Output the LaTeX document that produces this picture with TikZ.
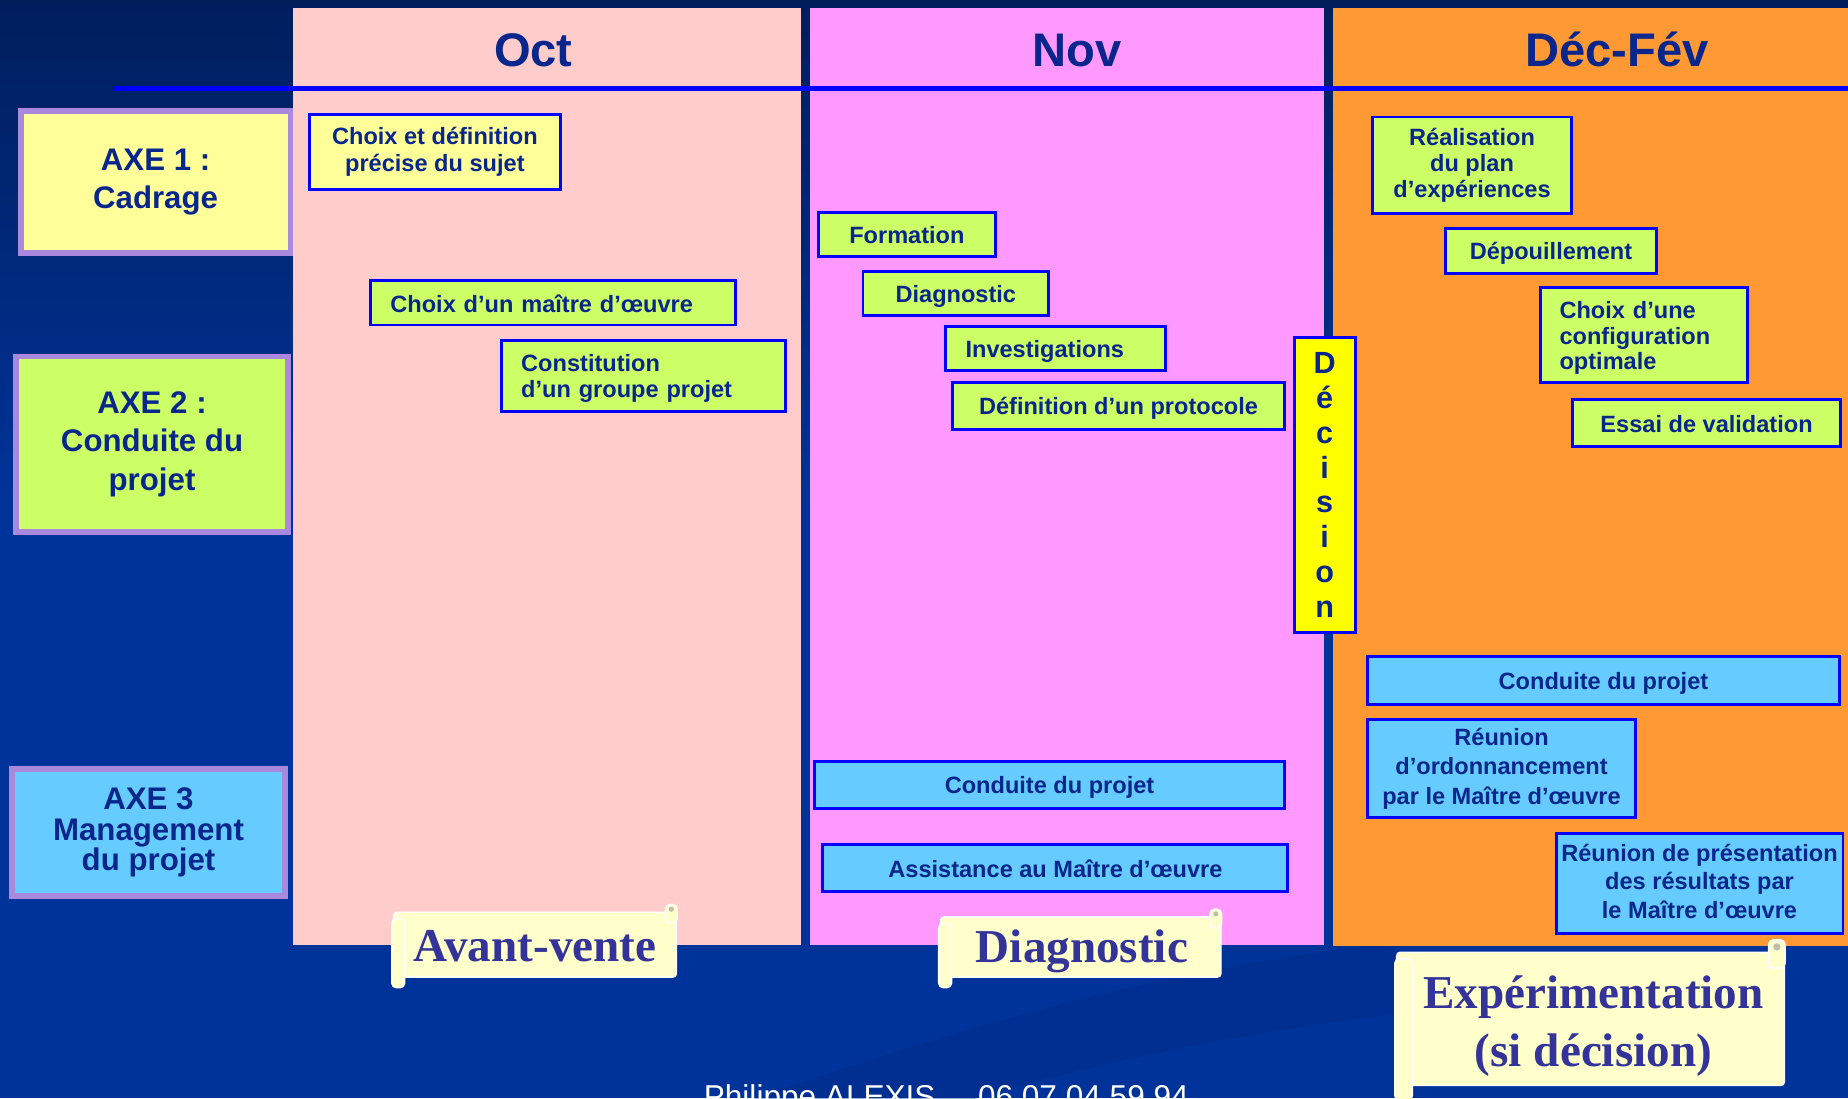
\documentclass[tikz,border=0pt]{standalone}
\usepackage{fontspec}
\setmainfont{Liberation Sans}
\newfontfamily\scrollfont{Liberation Serif}
\usetikzlibrary{calc}

\definecolor{bgtop}{RGB}{0,30,92}
\definecolor{bgbottom}{RGB}{0,51,153}
\definecolor{bandblue}{RGB}{0,47,145}
\definecolor{octfill}{RGB}{255,204,204}
\definecolor{novfill}{RGB}{255,153,255}
\definecolor{decfill}{RGB}{255,153,51}
\definecolor{lineblue}{RGB}{0,0,255}
\definecolor{axeborder}{RGB}{170,136,221}
\definecolor{yellowfill}{RGB}{255,255,153}
\definecolor{greenfill}{RGB}{204,255,102}
\definecolor{bluefill}{RGB}{102,204,255}
\definecolor{decisionfill}{RGB}{255,255,0}
\definecolor{txtblue}{RGB}{8,38,140}
\definecolor{scrollfill}{RGB}{255,255,204}
\definecolor{scrolltxt}{RGB}{51,51,153}
\definecolor{curlgray}{RGB}{190,190,170}

\tikzset{
	boxtext/.style={execute at begin node={\rule{0pt}{19pt}}, execute at end node={\rule[-3.5pt]{0pt}{3.5pt}}},
	axe/.style={draw=axeborder, line width=5pt, text=txtblue, align=center, inner sep=0pt, font=\bfseries\fontsize{26.5}{33}\selectfont, execute at begin node={\rule{0pt}{27pt}}, execute at end node={\rule[-3pt]{0pt}{3pt}}},
	task/.style={draw=lineblue, line width=2.5pt, text=txtblue, align=center, inner sep=0pt, font=\bfseries\fontsize{20}{22.5}\selectfont},
	greentask/.style={task, boxtext, fill=greenfill},
	yellowtask/.style={task, boxtext, fill=yellowfill},
	bluetask/.style={task, boxtext, fill=bluefill, font=\bfseries\fontsize{20}{24.5}\selectfont},
	month/.style={text=txtblue, font=\bfseries\fontsize{40}{40}\selectfont, inner sep=0pt, anchor=base},
	scrollbody/.style={fill=scrollfill, draw=white, line width=1.2pt, rounded corners=3pt, inner sep=0pt},
	scrolledge/.style={fill=scrollfill, draw=white, line width=1.2pt, rounded corners=4pt},
	scrolllabel/.style={text=scrolltxt, font=\scrollfont\bfseries\fontsize{40}{49.5}\selectfont, inner sep=0pt, anchor=base}
}

\def\scrollrolls(#1:#2){
	\draw[scrolledge] ($(#1.north west)+(-1,6)$) rectangle ($(#1.south west)+(#2,0.85*#2)$);
	\draw[scrolledge] ($(#1.north east)+(-#2,-#2+4)$) rectangle ($(#1.north east)+(0,#2)$);
	\fill[curlgray] ($(#1.north east)+(-#2/2,-#2/2+3)$) circle (#2*0.22pt);
}

\begin{document}
\begin{tikzpicture}[x=1pt, y=-1pt]
			%%%%% START %%%%%
			
			\useasboundingbox (0,0) rectangle (1568,932);
			\clip (0,0) rectangle (1568,932);
			
			\fill[bgbottom] (0,0) rectangle (1568,932);
			\shade[top color=bgtop, bottom color=bgbottom] (0,0) rectangle (1568,430);
			\fill[bandblue] (640,932) .. controls (850,860) and (1000,820) .. (1185,800) -- (1185,860) .. controls (1030,880) and (920,905) .. (827,932) -- cycle;
			
			\fill[octfill] (249,7) rectangle (680,802);
			\fill[novfill] (687,7) rectangle (1123,802);
			\fill[decfill] (1131,7) rectangle (1568,803);
			\draw[line width=4.5pt, color=lineblue] (96,75) -- (1568,75);
			
			\node[month] (oct) at (452.5,56) {Oct};
			\node[month] (nov) at (914,56) {Nov};
			\node[month] (decfev) at (1372,56) {Déc-Fév};
			
			\node[axe, fill=yellowfill, minimum width=229pt, minimum height=120pt] (axe1) at (132,154.5) {AXE 1 :\\Cadrage};
			\node[axe, fill=greenfill, minimum width=231pt, minimum height=149pt, font=\bfseries\fontsize{26.5}{32.5}\selectfont] (axe2) at (129,377) {AXE 2 :\\Conduite du\\projet};
			\node[axe, fill=bluefill, minimum width=231pt, minimum height=108pt, font=\bfseries\fontsize{26.5}{26}\selectfont] (axe3) at (126,706.5) {AXE 3\\Management\\du projet};
			
			\node[yellowtask, minimum width=213.5pt, minimum height=63.5pt, font=\bfseries\fontsize{20}{23}\selectfont] (sujet) at (369,129) {Choix et définition\\précise du sujet};
			\node[greentask, minimum width=309.5pt, minimum height=37.5pt, align=left, text width=275.5pt, inner xsep=17pt] (maitre) at (469,257) {Choix d’un maître d’œuvre};
			\node[greentask, minimum width=241.5pt, minimum height=59.5pt, align=left, text width=207.5pt, inner xsep=17pt, font=\bfseries\fontsize{20}{22}\selectfont] (groupe) at (546,319) {Constitution\\d’un groupe projet};
			
			\node[greentask, minimum width=150.5pt, minimum height=37.5pt] (formation) at (769.5,199) {Formation};
			\node[greentask, minimum width=157.5pt, minimum height=37.5pt] (diag) at (811,249) {Diagnostic};
			\node[greentask, minimum width=186.5pt, minimum height=37.5pt, align=left, text width=152.5pt, inner xsep=17pt] (investig) at (895.5,296) {Investigations};
			\node[greentask, minimum width=281.5pt, minimum height=40.5pt] (protocole) at (949,344.5) {Définition d’un protocole};
			\node[bluetask, minimum width=398.5pt, minimum height=39.5pt] (conduitenov) at (890.5,666) {Conduite du projet};
			\node[bluetask, minimum width=394.5pt, minimum height=40.5pt] (assistance) at (895.5,736.5) {Assistance au Maître d’œuvre};
			
			\node[task, fill=decisionfill, minimum width=51.5pt, minimum height=250.5pt, font=\bfseries\fontsize{26}{29.5}\selectfont] (decision) at (1124,411.5) {D\\é\\c\\i\\s\\i\\o\\n};
			
			\node[greentask, minimum width=169.5pt, minimum height=81.5pt, font=\bfseries\fontsize{20}{22}\selectfont] (realisation) at (1249,140) {Réalisation\\du plan\\d’expériences};
			\node[greentask, minimum width=179.5pt, minimum height=37.5pt] (depouil) at (1316,213) {Dépouillement};
			\node[greentask, minimum width=175.5pt, minimum height=80.5pt, align=left, text width=143.5pt, inner xsep=16pt, font=\bfseries\fontsize{20}{21.5}\selectfont] (config) at (1395,284.5) {Choix d’une\\configuration\\optimale};
			\node[greentask, minimum width=227.5pt, minimum height=39.5pt] (essai) at (1448,359) {Essai de validation};
			\node[bluetask, minimum width=400.5pt, minimum height=40.5pt] (conduitedec) at (1360.5,577.5) {Conduite du projet};
			\node[bluetask, minimum width=227.5pt, minimum height=83.5pt, font=\bfseries\fontsize{20}{25}\selectfont] (ordo) at (1274,652) {Réunion\\d’ordonnancement\\par le Maître d’œuvre};
			\node[bluetask, minimum width=243.5pt, minimum height=84.5pt] (resultats) at (1442,749.5) {Réunion de présentation\\des résultats par\\le Maître d’œuvre};
			
			\node[scrollbody, minimum width=240pt, minimum height=55pt] (avvbox) at (454,801.5) {};
			\scrollrolls(avvbox:10)
			\node[scrolllabel] (avantvente) at (454,816) {Avant-vente};
			
			\node[scrollbody, minimum width=238pt, minimum height=51pt] (diabox) at (917,803.5) {};
			\scrollrolls(diabox:10)
			\node[scrolllabel] (diagnostic) at (918,817) {Diagnostic};
			
			\node[scrollbody, minimum width=329pt, minimum height=113pt] (expbox) at (1349.5,864.5) {};
			\scrollrolls(expbox:14)
			\node[scrolllabel] (experim) at (1352,855.5) {Expérimentation};
			\node[scrolllabel] (sidecision) at (1352,905) {(si décision)};
			
			\node[anchor=base west, text=white, font=\fontsize{26.8}{30}\selectfont, inner sep=0pt] (footer) at (597,940) {Philippe ALEXIS\hspace{36pt}06 07 04 59 94};
			
			%%%%% END %%%%%
\end{tikzpicture}
\end{document}
